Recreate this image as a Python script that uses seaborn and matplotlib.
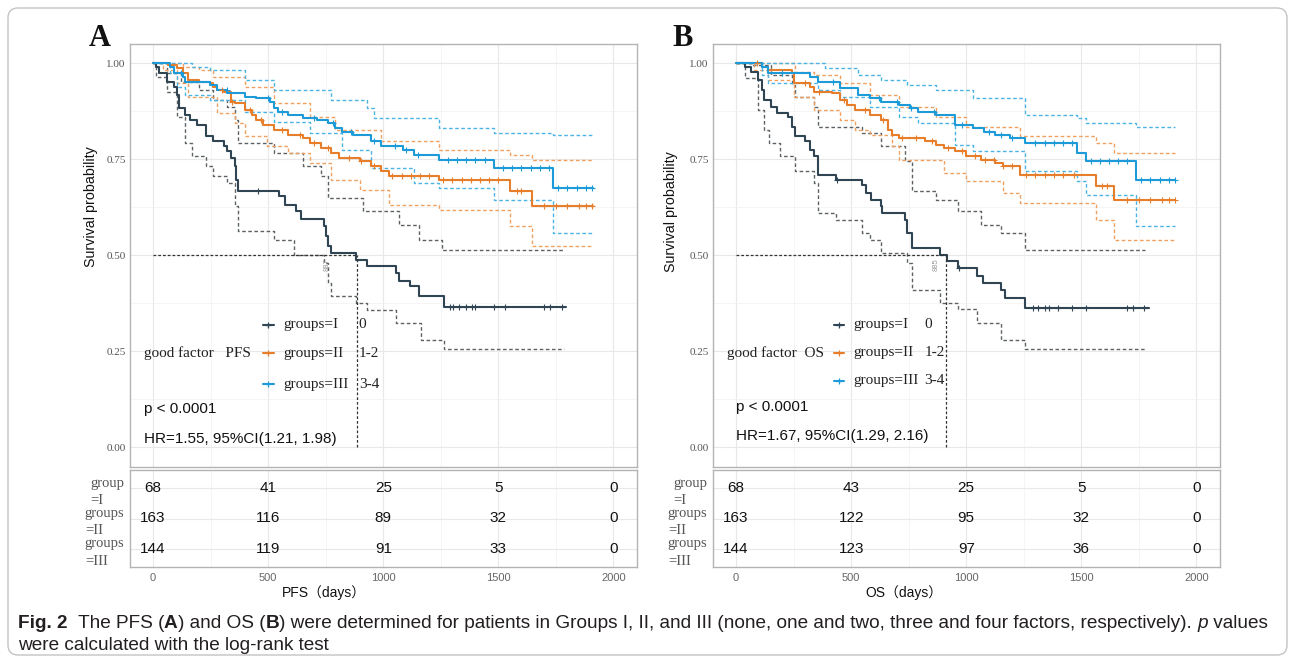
import matplotlib

matplotlib.use("Agg")

import numpy as np
import pandas as pd
import seaborn as sns
from matplotlib import pyplot as plt
from matplotlib.patches import FancyBboxPatch
from matplotlib.ticker import FixedLocator, MultipleLocator

sns.set_style("white")
plt.rcParams["font.family"] = ["Liberation Sans", "DejaVu Sans"]

SERIF = ["Liberation Serif", "DejaVu Serif"]
groups = ["I", "II", "III"]
palette = {"I": "#2f4553", "II": "#e67e2c", "III": "#1c9bd8"}
ci_palette = {"I": "#5c6165", "II": "#f0a160", "III": "#4cb4e4"}

# ---------------- Panel A: PFS ----------------
a_I_t = [0, 12, 28, 59, 90, 106, 114, 137, 160, 191, 230, 261, 308, 323, 339, 355,
         359, 370, 549, 572, 619, 642, 743, 751, 759, 774, 883, 930, 1054, 1070,
         1117, 1156, 1264]
a_I_s = [1.0, 0.99, 0.974, 0.952, 0.939, 0.918, 0.883, 0.866, 0.853, 0.84, 0.81,
         0.797, 0.784, 0.771, 0.753, 0.732, 0.697, 0.667, 0.654, 0.632, 0.615, 0.595,
         0.576, 0.55, 0.524, 0.506, 0.489, 0.472, 0.455, 0.433, 0.42, 0.394, 0.366]
a_I_up_t = [0, 59, 121, 199, 261, 323, 355, 370, 526, 650, 728, 759, 914, 1070, 1156, 1257]
a_I_up = [1.0, 0.974, 0.952, 0.931, 0.905, 0.887, 0.853, 0.792, 0.766, 0.732, 0.706,
          0.649, 0.615, 0.58, 0.541, 0.515]
a_I_lo_t = [0, 12, 59, 106, 137, 168, 230, 261, 323, 355, 370, 526, 611, 743, 759, 774,
            883, 930, 1054, 1163, 1264]
a_I_lo = [1.0, 0.965, 0.926, 0.861, 0.792, 0.758, 0.732, 0.706, 0.688, 0.628, 0.563,
          0.541, 0.502, 0.481, 0.429, 0.394, 0.377, 0.359, 0.325, 0.281, 0.255]
a_I_cens = [456, 1290, 1305, 1330, 1360, 1385, 1400, 1480, 1530, 1700, 1725, 1775]

a_II_t = [0, 67, 106, 129, 152, 199, 246, 261, 277, 308, 339, 355, 401, 432, 448, 479,
          526, 588, 650, 681, 728, 774, 806, 899, 946, 992, 1023, 1241, 1552, 1645]
a_II_s = [1.0, 0.996, 0.987, 0.974, 0.957, 0.952, 0.948, 0.939, 0.93, 0.926, 0.9,
          0.896, 0.879, 0.866, 0.853, 0.84, 0.827, 0.814, 0.805, 0.792, 0.779, 0.766,
          0.753, 0.745, 0.732, 0.719, 0.706, 0.697, 0.667, 0.628]
a_II_up_t = [0, 129, 199, 261, 401, 526, 681, 790, 992, 1241, 1552, 1645]
a_II_up = [1.0, 0.991, 0.983, 0.965, 0.939, 0.896, 0.861, 0.827, 0.797, 0.775, 0.762, 0.749]
a_II_lo_t = [0, 43, 106, 152, 277, 355, 401, 494, 588, 681, 774, 899, 1023, 1241, 1552, 1645]
a_II_lo = [1.0, 0.983, 0.948, 0.913, 0.87, 0.844, 0.81, 0.784, 0.766, 0.74, 0.697,
           0.671, 0.632, 0.619, 0.576, 0.524]
a_II_cens = [300, 345, 420, 470, 560, 640, 700, 760, 850, 905, 960, 1040, 1080, 1120,
             1160, 1200, 1260, 1300, 1340, 1380, 1420, 1460, 1500, 1580, 1600, 1700,
             1750, 1800, 1850, 1880, 1905]

a_III_t = [0, 75, 90, 129, 137, 246, 277, 323, 401, 448, 510, 526, 541, 588, 650, 712,
           759, 790, 821, 868, 946, 992, 1086, 1132, 1241, 1482, 1739]
a_III_s = [1.0, 0.991, 0.974, 0.965, 0.952, 0.944, 0.93, 0.922, 0.913, 0.909, 0.9,
           0.883, 0.874, 0.866, 0.857, 0.853, 0.844, 0.831, 0.822, 0.814, 0.797, 0.784,
           0.775, 0.762, 0.749, 0.727, 0.675]
a_III_up_t = [0, 168, 246, 401, 526, 774, 930, 961, 1241, 1482, 1739]
a_III_up = [1.0, 0.991, 0.983, 0.957, 0.93, 0.905, 0.883, 0.857, 0.831, 0.818, 0.814]
a_III_lo_t = [0, 75, 106, 137, 246, 401, 526, 681, 821, 946, 1132, 1241, 1482, 1739]
a_III_lo = [1.0, 0.974, 0.939, 0.918, 0.905, 0.874, 0.848, 0.818, 0.775, 0.727, 0.688,
            0.675, 0.645, 0.558]
a_III_cens = [120, 320, 500, 560, 700, 780, 860, 960, 1050, 1100, 1150, 1280, 1320,
              1360, 1400, 1440, 1520, 1560, 1600, 1640, 1680, 1720, 1760, 1800, 1840,
              1880, 1905]

a_end = [1793, 1910, 1910]
a_ci_end = [1785, 1910, 1910]
a_risk = [[68, 41, 25, 5, 0], [163, 116, 89, 32, 0], [144, 119, 91, 33, 0]]
a_median = 887

# ---------------- Panel B: OS ----------------
b_I_t = [0, 40, 64, 97, 113, 121, 153, 177, 225, 242, 258, 298, 322, 338, 354, 435,
         548, 564, 588, 628, 636, 733, 741, 765, 886, 918, 966, 1047, 1071, 1151, 1167,
         1256]
b_I_s = [1.0, 0.991, 0.978, 0.957, 0.93, 0.905, 0.887, 0.87, 0.861, 0.835, 0.81,
         0.797, 0.775, 0.758, 0.71, 0.697, 0.684, 0.662, 0.645, 0.628, 0.61, 0.593,
         0.558, 0.519, 0.502, 0.485, 0.468, 0.446, 0.429, 0.411, 0.39, 0.364]
b_I_up_t = [0, 64, 153, 242, 258, 338, 354, 548, 628, 733, 765, 870, 966, 1063, 1151, 1256]
b_I_up = [1.0, 0.996, 0.97, 0.944, 0.913, 0.887, 0.835, 0.818, 0.784, 0.745, 0.667,
          0.645, 0.615, 0.58, 0.558, 0.515]
b_I_lo_t = [0, 40, 97, 121, 145, 193, 258, 338, 354, 435, 548, 580, 628, 741, 765, 886,
            966, 1047, 1151, 1256]
b_I_lo = [1.0, 0.961, 0.879, 0.827, 0.792, 0.758, 0.719, 0.688, 0.61, 0.593, 0.558,
          0.541, 0.506, 0.48, 0.411, 0.377, 0.36, 0.325, 0.281, 0.255]
b_I_cens = [440, 970, 1290, 1310, 1340, 1360, 1400, 1460, 1520, 1700, 1725, 1770]

b_II_t = [0, 113, 137, 242, 250, 322, 338, 419, 451, 483, 515, 580, 628, 660, 676, 709,
          821, 870, 902, 950, 998, 1063, 1127, 1159, 1232, 1562, 1643]
b_II_s = [1.0, 0.991, 0.983, 0.974, 0.948, 0.939, 0.926, 0.922, 0.905, 0.892, 0.879,
          0.866, 0.853, 0.827, 0.814, 0.805, 0.797, 0.788, 0.779, 0.771, 0.758, 0.749,
          0.74, 0.732, 0.71, 0.68, 0.645]
b_II_up_t = [0, 137, 258, 338, 451, 580, 709, 870, 998, 1232, 1562, 1643]
b_II_up = [1.0, 1.0, 0.978, 0.97, 0.948, 0.918, 0.887, 0.861, 0.835, 0.81, 0.792, 0.766]
b_II_lo_t = [0, 80, 137, 250, 338, 451, 515, 580, 676, 709, 902, 998, 1159, 1232, 1562, 1643]
b_II_lo = [1.0, 0.983, 0.957, 0.913, 0.879, 0.853, 0.827, 0.814, 0.784, 0.749, 0.715,
           0.693, 0.662, 0.636, 0.593, 0.541]
b_II_cens = [90, 300, 360, 470, 560, 640, 720, 780, 850, 920, 980, 1040, 1080, 1120,
             1160, 1200, 1260, 1300, 1340, 1380, 1420, 1470, 1590, 1610, 1700, 1750,
             1800, 1850, 1880, 1905]

b_III_t = [0, 113, 137, 322, 354, 451, 531, 580, 628, 709, 757, 789, 870, 950, 1031,
           1079, 1127, 1192, 1256, 1481, 1522, 1739]
b_III_s = [1.0, 0.991, 0.974, 0.965, 0.952, 0.935, 0.918, 0.909, 0.9, 0.892, 0.883,
           0.874, 0.866, 0.84, 0.831, 0.822, 0.814, 0.805, 0.792, 0.766, 0.745, 0.697]
b_III_up_t = [0, 322, 386, 531, 628, 741, 870, 1031, 1256, 1481, 1522, 1739]
b_III_up = [1.0, 1.0, 0.987, 0.97, 0.957, 0.944, 0.931, 0.909, 0.866, 0.857, 0.844, 0.835]
b_III_lo_t = [0, 113, 137, 354, 451, 580, 709, 789, 950, 1031, 1256, 1481, 1522, 1739]
b_III_lo = [1.0, 0.97, 0.948, 0.931, 0.913, 0.887, 0.861, 0.844, 0.788, 0.771, 0.719,
            0.693, 0.658, 0.576]
b_III_cens = [200, 420, 620, 700, 760, 860, 980, 1100, 1150, 1200, 1300, 1340, 1380,
              1420, 1460, 1540, 1580, 1620, 1660, 1700, 1760, 1800, 1840, 1880, 1905]

b_end = [1795, 1908, 1908]
b_ci_end = [1776, 1908, 1908]
b_risk = [[68, 43, 25, 5, 0], [163, 122, 95, 32, 0], [144, 123, 97, 36, 0]]
b_median = 913

risk_times = [0, 500, 1000, 1500, 2000]
row_labels = ["group\n=I", "groups\n=II", "groups\n=III"]


def step_frame(series, ends):
    rows = []
    for grp, (t, s), end in zip(groups, series, ends):
        for ti, si in zip(list(t) + [end], list(s) + [s[-1]]):
            rows.append({"group": grp, "time": ti, "surv": si})
    return pd.DataFrame(rows)


def ci_frame(uppers, lowers, ends):
    rows = []
    for grp, up, lo, end in zip(groups, uppers, lowers, ends):
        for band, (t, s) in (("up", up), ("lo", lo)):
            for ti, si in zip(list(t) + [end], list(s) + [s[-1]]):
                rows.append({"group": grp, "band": grp + band, "time": ti, "surv": si})
    return pd.DataFrame(rows)


def style_grid(ax):
    ax.set_xlim(-100, 2100)
    ax.xaxis.set_major_locator(MultipleLocator(500))
    ax.xaxis.set_minor_locator(MultipleLocator(250))
    ax.grid(which="major", color="#e8e8e8", lw=0.8)
    ax.grid(which="minor", color="#f1f1f1", lw=0.5)
    ax.set_axisbelow(True)
    for sp in ax.spines.values():
        sp.set_color("#b3b3b3")
        sp.set_linewidth(1.0)


def draw_panel(fig, left, letter, series, uppers, lowers, cens, ends, ci_ends, risk,
               median, med_label, med_lab_x, title, p_txt, hr_txt, leg, xlab, xlab_px,
               ylab_px):
    W, H = fig.get_size_inches() * fig.dpi
    ax = fig.add_axes([left / W, 1 - 466.7 / H, 506.5 / W, 422.7 / H])
    tab = fig.add_axes([left / W, 1 - 567 / H, 506.5 / W, 97 / H])

    style_grid(ax)
    ax.set_ylim(-0.05, 1.05)
    ax.yaxis.set_major_locator(FixedLocator([0, 0.25, 0.5, 0.75, 1.0]))
    ax.yaxis.set_minor_locator(FixedLocator([0.125, 0.375, 0.625, 0.875]))
    ax.set_yticklabels(["0.00", "0.25", "0.50", "0.75", "1.00"], family=SERIF,
                       fontsize=8, color="#555555")
    ax.tick_params(axis="y", length=0, pad=3)
    ax.tick_params(axis="x", length=2.5, color="#444444", labelbottom=False)

    ci = ci_frame(uppers, lowers, ci_ends)
    sns.lineplot(data=ci, x="time", y="surv", hue="group", units="band",
                 estimator=None, palette=ci_palette, drawstyle="steps-post",
                 linestyle=(0, (2.6, 1.8)), lw=1.0, legend=False, ax=ax)
    curves = step_frame(series, ends)
    sns.lineplot(data=curves, x="time", y="surv", hue="group", estimator=None,
                 palette=palette, drawstyle="steps-post", lw=1.5, legend=False, ax=ax)
    for grp, (t, s), c in zip(groups, series, cens):
        idx = np.searchsorted(t, c, side="right") - 1
        ax.plot(c, np.asarray(s)[idx], ls="none", marker="+", ms=4.5, mew=0.8,
                color=palette[grp])

    # median survival guide lines
    ax.plot([0, median], [0.5, 0.5], ls=(0, (2.2, 1.6)), color="#333333", lw=0.9)
    ax.plot([median, median], [0, 0.5], ls=(0, (2.2, 1.6)), color="#333333", lw=0.9)
    ax.text(med_lab_x, 0.475, med_label, rotation=90, fontsize=5.5, color="#999999",
            ha="center", va="center")

    # in-plot legend and statistics
    ax.text(-39, leg["rows"][1], title, family=SERIF, fontsize=11, color="#222222",
            ha="left", va="center")
    for grp, yy, extra in zip(groups, leg["rows"], leg["extra"]):
        k0, k1 = leg["key"]
        ax.plot([k0, k1], [yy, yy], color=palette[grp], lw=1.5)
        ax.plot([(k0 + k1) / 2], [yy], marker="+", ms=4, mew=0.9, color=palette[grp])
        ax.text(leg["lab"], yy, "groups=" + grp, family=SERIF, fontsize=11,
                color="#222222", ha="left", va="center")
        ax.text(leg["col"], yy, extra, family=SERIF, fontsize=11, color="#222222",
                ha="left", va="center")
    ax.text(leg["p_x"], leg["p_y"], p_txt, fontsize=11, color="#111111", va="center")
    ax.text(leg["p_x"], leg["hr_y"], hr_txt, fontsize=11, color="#111111", va="center")
    ax.set_xlabel("")
    ax.set_ylabel("")

    # number-at-risk table
    style_grid(tab)
    tab.set_ylim(0.4, 3.6)
    tab.yaxis.set_major_locator(FixedLocator([3, 2, 1]))
    tab.set_yticks([3, 2, 1])
    tab.set_yticklabels(row_labels)
    for lab in tab.get_yticklabels():
        lab.set_fontfamily(SERIF)
        lab.set_fontsize(10.5)
        lab.set_color("#555555")
        lab.set_multialignment("left")
        lab.set_linespacing(1.45)
    tab.tick_params(axis="y", length=2, pad=2, color="#555555")
    tab.tick_params(axis="x", length=2.5, color="#444444", labelsize=8,
                    labelcolor="#666666", pad=2)
    for row, counts in zip([3, 2, 1], risk):
        for tt, n in zip(risk_times, counts):
            tab.text(tt, row, str(n), fontsize=11, color="#111111", ha="center",
                     va="center")

    fig.text((left - 41) / W, 1 - 39 / H, letter, family=SERIF, fontweight="bold",
             fontsize=22, color="#111111", ha="left", va="center")
    fig.text(xlab_px / W, 1 - 593 / H, xlab, fontsize=10,
             family=["Liberation Sans", "Noto Sans CJK SC"], ha="center",
             va="center", color="#111111")
    fig.text(ylab_px[0] / W, 1 - ylab_px[1] / H, "Survival probability", fontsize=10.3,
             rotation=90, ha="center", va="center", color="#111111")


fig = plt.figure(figsize=(12.95, 6.63), dpi=100)
fig.patches.append(FancyBboxPatch((0.08, 0.08), 12.79, 6.47,
                                  boxstyle="round,pad=0,rounding_size=0.1",
                                  transform=fig.dpi_scale_trans, fc="none",
                                  ec="#c4c4c4", lw=1.0))

draw_panel(
    fig, 130, "A",
    [(a_I_t, a_I_s), (a_II_t, a_II_s), (a_III_t, a_III_s)],
    [(a_I_up_t, a_I_up), (a_II_up_t, a_II_up), (a_III_up_t, a_III_up)],
    [(a_I_lo_t, a_I_lo), (a_II_lo_t, a_II_lo), (a_III_lo_t, a_III_lo)],
    [a_I_cens, a_II_cens, a_III_cens], a_end, a_ci_end, a_risk,
    a_median, "887", 755, "good factor   PFS", "p < 0.0001",
    "HR=1.55, 95%CI(1.21, 1.98)",
    {"rows": [0.32, 0.245, 0.165], "key": [477, 525], "lab": 568, "col": 894,
     "extra": ["0", "1-2", "3-4"], "p_x": -39, "p_y": 0.101, "hr_y": 0.023},
    "PFS（days）", 324, (91, 207),
)
draw_panel(
    fig, 713, "B",
    [(b_I_t, b_I_s), (b_II_t, b_II_s), (b_III_t, b_III_s)],
    [(b_I_up_t, b_I_up), (b_II_up_t, b_II_up), (b_III_up_t, b_III_up)],
    [(b_I_lo_t, b_I_lo), (b_II_lo_t, b_II_lo), (b_III_lo_t, b_III_lo)],
    [b_I_cens, b_II_cens, b_III_cens], b_end, b_ci_end, b_risk,
    b_median, "885", 870, "good factor  OS", "p < 0.0001",
    "HR=1.67, 95%CI(1.29, 2.16)",
    {"rows": [0.319, 0.246, 0.174], "key": [425, 470], "lab": 511, "col": 818,
     "extra": ["0", "1-2", "3-4"], "p_x": 0, "p_y": 0.106, "hr_y": 0.031},
    "OS（days）", 904, (671, 212),
)

# caption with mixed bold / italic runs
CAP_FONT = ["Liberation Sans", "DejaVu Sans"]
line1 = [("Fig. 2", "bold", "normal"), ("  The PFS (", "normal", "normal"),
         ("A", "bold", "normal"), (") and OS (", "normal", "normal"),
         ("B", "bold", "normal"),
         (") were determined for patients in Groups I, II, and III (none, one and two,"
          " three and four factors, respectively). ", "normal", "normal"),
         ("p", "normal", "italic"), (" values", "normal", "normal")]
line2 = [("were calculated with the log-rank test", "normal", "normal")]


def put_runs(runs, x_px, y_px, size):
    renderer = fig.canvas.get_renderer()
    W, H = fig.get_size_inches() * fig.dpi
    x = x_px
    made = []
    for txt, weight, style in runs:
        t = fig.text(x / W, 1 - y_px / H, txt, family=CAP_FONT, fontsize=size,
                     fontweight=weight, fontstyle=style, color="#231f20",
                     ha="left", va="center")
        x += t.get_window_extent(renderer).width
        made.append(t)
    return x - x_px, made


width, made = put_runs(line1, 18, 623, 12)
for t in made:
    t.remove()
size = 12 * 1257 / width
put_runs(line1, 18, 623, size)
put_runs(line2, 18, 646, size)

fig.savefig("out.png", dpi=100)
